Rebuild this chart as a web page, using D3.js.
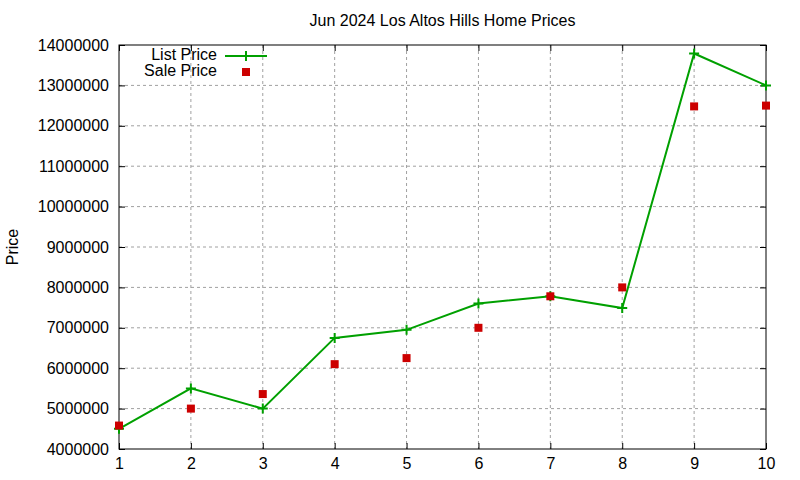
<!DOCTYPE html>
<html>
<head>
<meta charset="utf-8">
<script src="https://cdn.jsdelivr.net/npm/d3@7"></script>
<style>
  body { margin: 0; background: #fff; }
  text { font-family: "Liberation Sans", Arial, sans-serif; fill: #000; }
</style>
</head>
<body>
<div id="chart"></div>
<script>
// data
const months = [1, 2, 3, 4, 5, 6, 7, 8, 9, 10];
const listPrice = [4500000, 5500000, 5000000, 6750000, 6950000, 7600000, 7780000, 7490000, 13790000, 13000000];
const salePrice = [4580000, 5000000, 5360000, 6100000, 6250000, 7000000, 7780000, 8000000, 12480000, 12500000];
const yTicks = [4000000, 5000000, 6000000, 7000000, 8000000, 9000000, 10000000, 11000000, 12000000, 13000000, 14000000];

const width = 800, height = 480;
const margin = { top: 45, right: 34, bottom: 31, left: 119 };
const w = width - margin.left - margin.right;
const h = height - margin.top - margin.bottom;

const green = "#00a000", red = "#cc0000";
const fontSize = "16px";

const svg = d3.select("#chart").append("svg")
    .attr("width", width)
    .attr("height", height);

const g = svg.append("g")
    .attr("transform", "translate(" + margin.left + "," + margin.top + ")");

const x = d3.scaleLinear().domain([1, 10]).range([0, w]);
const y = d3.scaleLinear().domain([4000000, 14000000]).range([h, 0]);

// grid
g.append("g")
    .selectAll("line")
    .data(months.slice(1, -1))
    .enter().append("line")
    .attr("x1", d => x(d)).attr("x2", d => x(d))
    .attr("y1", 0).attr("y2", h)
    .style("stroke", "#a0a0a0")
    .style("stroke-dasharray", "3,3");

g.append("g")
    .selectAll("line")
    .data(yTicks.slice(1, -1))
    .enter().append("line")
    .attr("x1", 0).attr("x2", w)
    .attr("y1", d => y(d)).attr("y2", d => y(d))
    .style("stroke", "#a0a0a0")
    .style("stroke-dasharray", "3,3");

// axes, gnuplot style ticks pointing inward
const xAxis = g.append("g")
    .attr("transform", "translate(0," + h + ")")
    .call(d3.axisBottom(x).tickValues(months).tickFormat(d3.format("d")).tickSizeInner(-6).tickSizeOuter(0).tickPadding(9));
const xTop = g.append("g")
    .call(d3.axisTop(x).tickValues(months).tickFormat("").tickSizeInner(-6).tickSizeOuter(0));
const yAxis = g.append("g")
    .call(d3.axisLeft(y).tickValues(yTicks).tickFormat(d3.format("d")).tickSizeInner(-6).tickSizeOuter(0).tickPadding(10));
const yRight = g.append("g")
    .attr("transform", "translate(" + w + ",0)")
    .call(d3.axisRight(y).tickValues(yTicks).tickFormat("").tickSizeInner(-6).tickSizeOuter(0));

[xAxis, xTop, yAxis, yRight].forEach(a => {
    a.select(".domain").remove();
    a.selectAll("line").style("stroke", "#000");
    a.selectAll("text").style("font-size", fontSize).style("font-family", "Liberation Sans, Arial, sans-serif");
});

g.append("rect")
    .attr("width", w).attr("height", h)
    .style("fill", "none")
    .style("stroke", "#000")
    .style("stroke-width", 1);

// list price line
const line = d3.line()
    .x((d, i) => x(months[i]))
    .y(d => y(d));

g.append("path")
    .datum(listPrice)
    .attr("d", line)
    .style("fill", "none")
    .style("stroke", green)
    .style("stroke-width", 2);

g.selectAll(".plus")
    .data(listPrice)
    .enter().append("path")
    .attr("class", "plus")
    .attr("d", "M-5,0H5M0,-5V5")
    .attr("transform", (d, i) => "translate(" + x(months[i]) + "," + y(d) + ")")
    .style("stroke", green)
    .style("stroke-width", 2);

// sale price points
g.selectAll(".sale")
    .data(salePrice)
    .enter().append("rect")
    .attr("class", "sale")
    .attr("x", (d, i) => x(months[i]) - 4)
    .attr("y", d => y(d) - 4)
    .attr("width", 8)
    .attr("height", 8)
    .style("fill", red);

// title and label
svg.append("text")
    .attr("x", margin.left + w / 2)
    .attr("y", 26)
    .attr("text-anchor", "middle")
    .style("font-size", fontSize)
    .text("Jun 2024 Los Altos Hills Home Prices");

svg.append("text")
    .attr("transform", "translate(18," + (margin.top + h / 2) + ") rotate(-90)")
    .attr("text-anchor", "middle")
    .style("font-size", fontSize)
    .text("Price");

// legend
const legend = svg.append("g").attr("transform", "translate(217,55)");
legend.append("text")
    .attr("x", 0).attr("y", 0).attr("dy", "0.33em")
    .attr("text-anchor", "end")
    .style("font-size", fontSize)
    .text("List Price");
legend.append("line")
    .attr("x1", 8).attr("x2", 50).attr("y1", 1).attr("y2", 1)
    .style("stroke", green).style("stroke-width", 2);
legend.append("path")
    .attr("d", "M-5,0H5M0,-5V5")
    .attr("transform", "translate(29,1)")
    .style("stroke", green).style("stroke-width", 2);
legend.append("text")
    .attr("x", 0).attr("y", 16).attr("dy", "0.33em")
    .attr("text-anchor", "end")
    .style("font-size", fontSize)
    .text("Sale Price");
legend.append("rect")
    .attr("x", 25).attr("y", 13).attr("width", 8).attr("height", 8)
    .style("fill", red);
</script>
</body>
</html>
